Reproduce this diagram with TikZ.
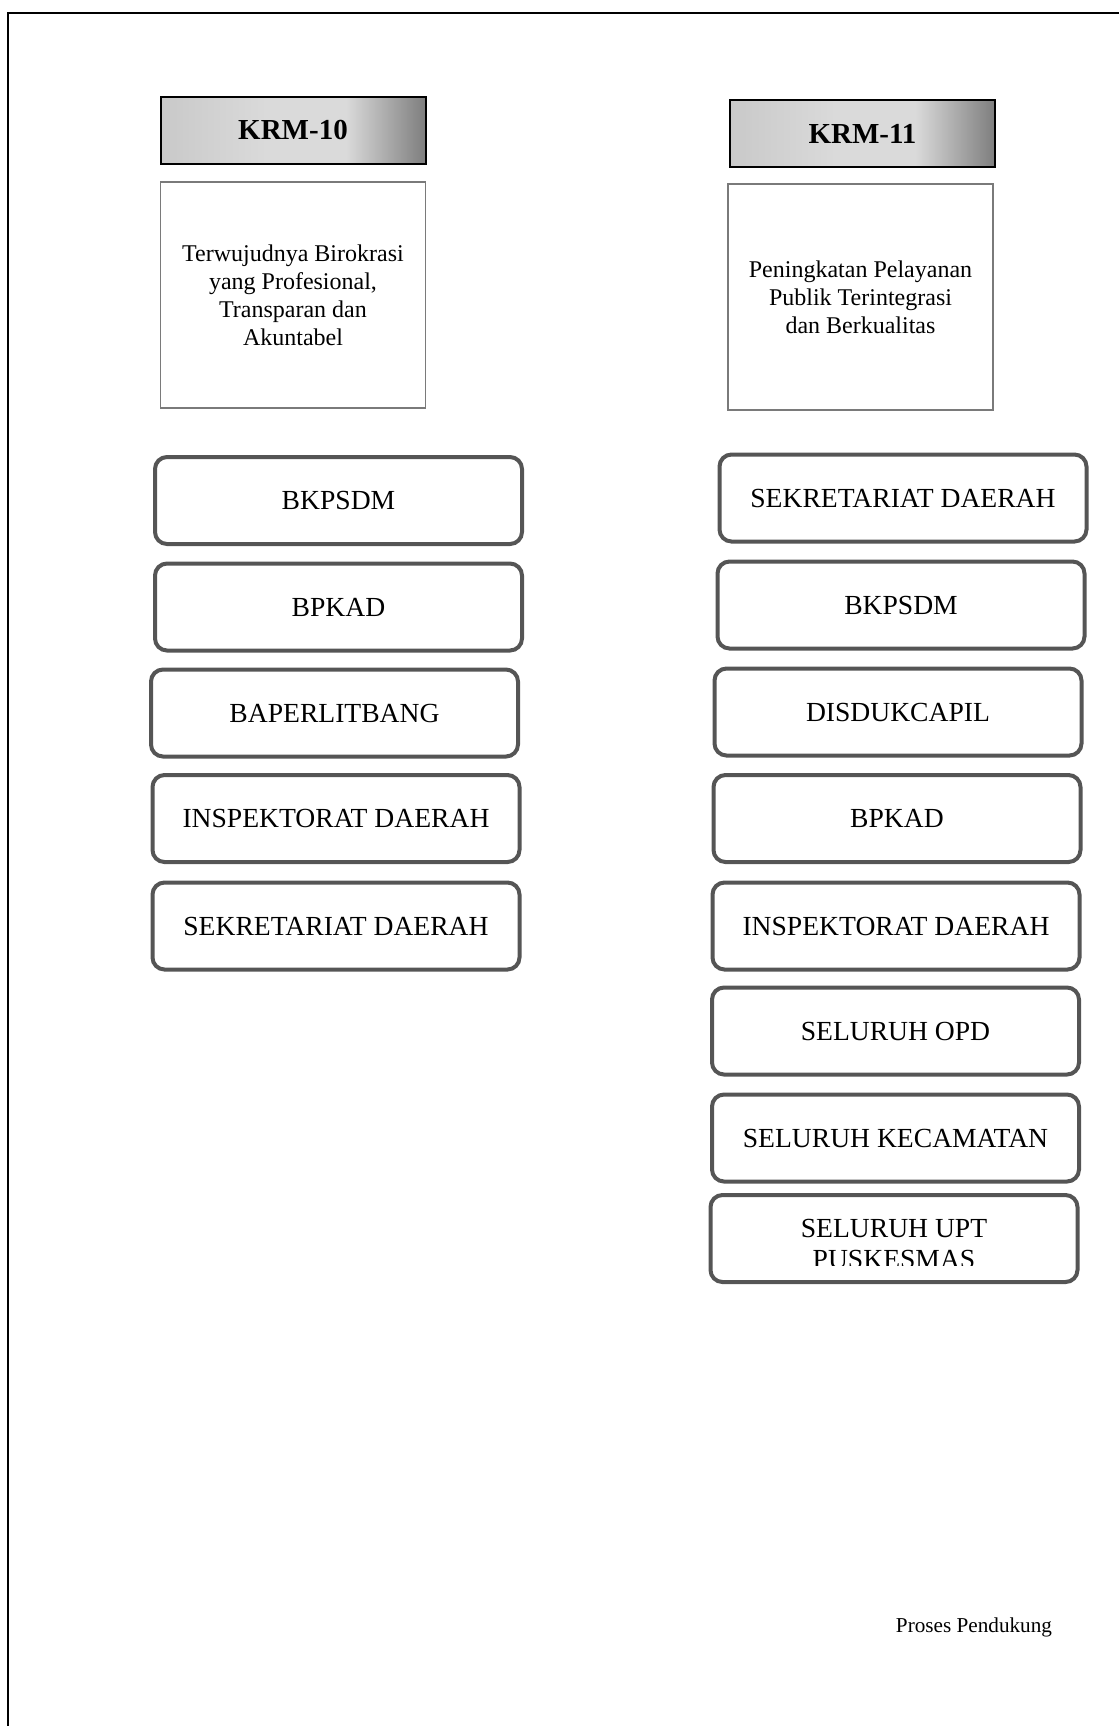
\documentclass[tikz,border=0pt]{standalone}
\usepackage{fontspec}
\setmainfont{Liberation Serif}

\definecolor{unitedge}{HTML}{555555}
\definecolor{goaledge}{HTML}{7A7A7A}
\definecolor{krmlight}{HTML}{C9C9C9}
\definecolor{krmmid}{HTML}{DADADA}
\definecolor{krmdark}{HTML}{7E7E7E}

% Grey bar shading of the KRM headers (light left, dark right)
\pgfdeclarehorizontalshading{krmgrad}{100bp}{color(0bp)=(krmlight); color(25bp)=(krmlight); color(45bp)=(krmmid); color(60bp)=(krmmid); color(75bp)=(krmdark); color(100bp)=(krmdark)}

\begin{document}
\begin{tikzpicture}[x=0.5pt, y=-0.5pt,
  krmhead/.style={draw=black, line width=1pt, shading=krmgrad,
    minimum width=132.5pt, minimum height=33.5pt, inner sep=0pt,
    font=\fontsize{14.5}{16}\selectfont\bfseries},
  goalbox/.style={draw=goaledge, line width=0.7pt,
    minimum width=132.5pt, minimum height=113pt, inner sep=0pt,
    align=center, font=\fontsize{12}{14}\selectfont},
  unitbox/.style={draw=unitedge, line width=2pt, rounded corners=6pt,
    minimum width=183.5pt, minimum height=43.5pt, inner sep=0pt,
    align=center, font=\fontsize{13.8}{15.5}\selectfont}]

  % Fix the page to the size of the scan
  \useasboundingbox (0,0) rectangle (1119,1726);

  % Define the corners of the page frame
  \coordinate (TR) at (1119,13);
  \coordinate (TL) at (7.5,13);
  \coordinate (BL) at (7.5,1726);

  % Draw the frame (only top and left edges are on the scan)
  \draw[line width=1pt] (TR) -- (TL) -- (BL);

  % KRM-10 on the left
  \node[krmhead] (krm10) at (293,130) {KRM-10};
  \node[goalbox] (goal10) at (293,295)
    {Terwujudnya Birokrasi\\yang Profesional,\\Transparan dan\\Akuntabel};

  % KRM-11 on the right
  \node[krmhead] (krm11) at (862.5,133.5) {KRM-11};
  \node[goalbox] (goal11) at (860.5,297)
    {Peningkatan Pelayanan\\Publik Terintegrasi\\dan Berkualitas};

  % Units under KRM-10
  \node[unitbox] (lbkpsdm) at (338.5,500.5) {BKPSDM};
  \node[unitbox] (lbpkad) at (338.5,607) {BPKAD};
  \node[unitbox] (lbaper) at (334.5,713) {BAPERLITBANG};
  \node[unitbox] (linsp) at (336,818.5) {INSPEKTORAT DAERAH};
  \node[unitbox] (lsekda) at (336,926) {SEKRETARIAT DAERAH};

  % Units under KRM-11
  \node[unitbox] (rsekda) at (903,498) {SEKRETARIAT DAERAH};
  \node[unitbox] (rbkpsdm) at (901,605) {BKPSDM};
  \node[unitbox] (rdukcapil) at (898,712) {DISDUKCAPIL};
  \node[unitbox] (rbpkad) at (897,818.5) {BPKAD};
  \node[unitbox] (rinsp) at (896,926) {INSPEKTORAT DAERAH};
  \node[unitbox] (ropd) at (895.5,1031) {SELURUH OPD};
  \node[unitbox] (rkec) at (895.5,1138) {SELURUH KECAMATAN};
  \node[unitbox] (rupt) at (894,1238.5) {};

  % The last label is cut off at the bottom of its text frame
  \coordinate (uptcut) at (0,1265);
  \begin{scope}
    \clip (rupt.north west) rectangle (rupt.east |- uptcut);
    \node[align=center, font=\fontsize{13.8}{15.5}\selectfont] (upttext) at (894,1244)
      {SELURUH UPT\\PUSKESMAS};
  \end{scope}

  % Caption in the lower right corner
  \node[font=\fontsize{10.6}{12}\selectfont] (proses) at (974,1627) {Proses Pendukung};

\end{tikzpicture}
\end{document}
